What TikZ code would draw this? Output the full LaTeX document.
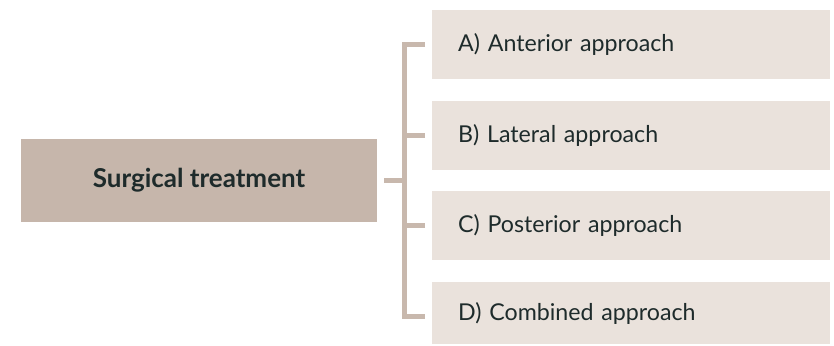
\documentclass[tikz,border=0pt]{standalone}
\usepackage{fontspec}
\setmainfont{Lato}
\definecolor{mainfill}{HTML}{C6B6AB}
\definecolor{subfill}{HTML}{EAE2DC}
\definecolor{linecol}{HTML}{C8B8AD}
\definecolor{txt}{HTML}{1E2B2B}
\tikzset{
  mainbox/.style={fill=mainfill, draw=none, minimum width=356pt, minimum height=83pt,
    inner sep=0pt, text=txt, font=\fontsize{26}{30}\selectfont\bfseries},
  subbox/.style={fill=subfill, draw=none, minimum height=69pt, text width=346pt,
    inner xsep=26pt, inner ysep=0pt, align=left, anchor=west, text=txt,
    font=\fontsize{23.2}{28}\selectfont},
  conn/.style={draw=linecol, line width=5pt, line cap=butt, line join=miter}
}
\begin{document}
\begin{tikzpicture}[x=1pt,y=-1pt]
\useasboundingbox (0,0) rectangle (834,345);
\node[mainbox] (main) at (199,180) {Surgical treatment};
\node[subbox] (a) at (432,44.5) {A) Anterior approach};
\node[subbox] (b) at (432,135.5) {B) Lateral approach};
\node[subbox] (c) at (432,225.5) {C) Posterior approach};
\node[subbox, minimum height=62pt] (d) at (432,313) {D) Combined approach};
\coordinate (ta) at ([xshift=-7pt]a.west);
\coordinate (tb) at ([xshift=-7pt]b.west);
\coordinate (tc) at ([xshift=-7pt]c.west);
\coordinate (td) at ([xshift=-7pt,yshift=-3pt]d.west);
\coordinate (tm) at ([xshift=7pt]main.east);
\draw[conn] (ta) -- ++(-21,0) |- (td);
\draw[conn] (tb) -- ++(-21,0);
\draw[conn] (tc) -- ++(-21,0);
\draw[conn] (tm) -- ++(22,0);
\end{tikzpicture}
\end{document}
